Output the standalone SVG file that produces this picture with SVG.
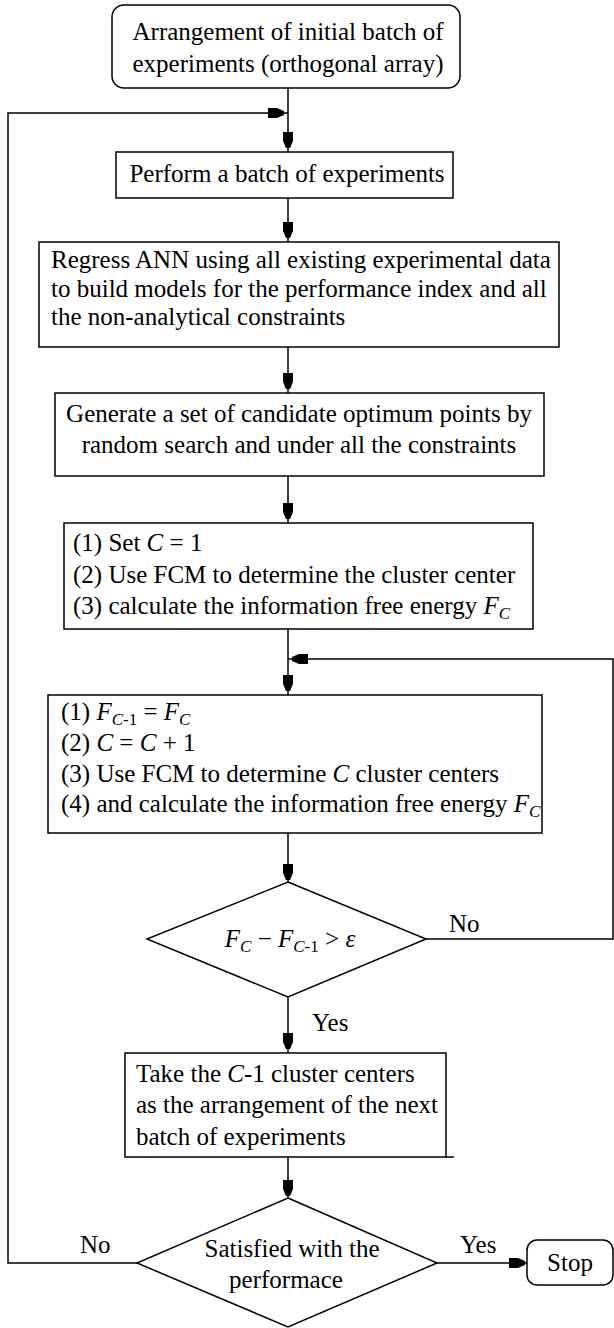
<svg xmlns="http://www.w3.org/2000/svg" width="614" height="1328" viewBox="0 0 614 1328" font-family="'Liberation Serif', 'DejaVu Serif', serif">
<style>
.box{fill:#fff;stroke:#000;stroke-width:1.5}
.t{font-family:'Liberation Serif','DejaVu Serif',serif;font-size:25px;fill:#000}
.c{text-anchor:middle}
.i{font-style:italic}
.s{font-size:17px}
.ln{fill:none;stroke:#000;stroke-width:1.5}
</style>
<defs>
<marker id="ah" markerUnits="userSpaceOnUse" markerWidth="22" markerHeight="12" refX="20" refY="6" orient="auto">
<path d="M0,1 L9,1 L16,4 L16,8 L9,11 L0,11 Z" fill="#000"/>
</marker>
</defs>
<rect width="614" height="1328" fill="#fff"/>
<g id="connectors">
<path class="ln" d="M288,88 V152" marker-end="url(#ah)"/>
<path class="ln" d="M137,1263 H8 V113 H288" marker-end="url(#ah)"/>
<path class="ln" d="M288,198 V242" marker-end="url(#ah)"/>
<path class="ln" d="M288,347 V393" marker-end="url(#ah)"/>
<path class="ln" d="M288,476 V523" marker-end="url(#ah)"/>
<path class="ln" d="M288,629 V695" marker-end="url(#ah)"/>
<path class="ln" d="M426,939 H613 V659 H288" marker-end="url(#ah)"/>
<path class="ln" d="M288,833 V884" marker-end="url(#ah)"/>
<path class="ln" d="M288,997 V1053" marker-end="url(#ah)"/>
<path class="ln" d="M288,1157 V1200" marker-end="url(#ah)"/>
<path class="ln" d="M437,1263 H529" marker-end="url(#ah)"/>
<text class="t" x="449" y="932">No</text>
<text class="t" x="312" y="1031">Yes</text>
<text class="t" x="80" y="1253">No</text>
<text class="t" x="460" y="1253">Yes</text>
</g>
<g id="start">
<rect class="box" x="112" y="5" width="348" height="83" rx="12"/>
<text class="t c" x="288" y="40">Arrangement of initial batch of</text>
<text class="t c" x="288" y="72">experiments (orthogonal array)</text>
</g>
<g id="perform">
<rect class="box" x="116" y="152" width="337" height="46"/>
<text class="t c" x="287" y="182">Perform a batch of experiments</text>
</g>
<g id="regress">
<rect class="box" x="39" y="242" width="520" height="105"/>
<text class="t" x="51" y="268">Regress ANN using all existing experimental data</text>
<text class="t" x="51" y="297">to build models for the performance index and all</text>
<text class="t" x="51" y="325">the non-analytical constraints</text>
</g>
<g id="generate">
<rect class="box" x="55" y="393" width="489" height="83"/>
<text class="t c" x="299" y="422">Generate a set of candidate optimum points by</text>
<text class="t c" x="299" y="453">random search and under all the constraints</text>
</g>
<g id="setc">
<rect class="box" x="64" y="523" width="469" height="106"/>
<text class="t" x="73" y="551">(1) Set <tspan class="i">C</tspan> = 1</text>
<text class="t" x="73" y="583">(2) Use FCM to determine the cluster center</text>
<text class="t" x="73" y="614">(3) calculate the information free energy <tspan class="i">F</tspan><tspan class="s i" dy="5">C</tspan></text>
</g>
<g id="fcm">
<rect class="box" x="48" y="695" width="494" height="138"/>
<text class="t" x="61" y="720">(1) <tspan class="i">F</tspan><tspan class="s" dy="5"><tspan class="i">C</tspan>-1</tspan><tspan dy="-5"> = </tspan><tspan class="i">F</tspan><tspan class="s i" dy="5">C</tspan></text>
<text class="t" x="61" y="751">(2) <tspan class="i">C</tspan> = <tspan class="i">C</tspan> + 1</text>
<text class="t" x="61" y="782">(3) Use FCM to determine <tspan class="i">C</tspan> cluster centers</text>
<text class="t" x="61" y="812">(4) and calculate the information free energy <tspan class="i">F</tspan><tspan class="s i" dy="5">C</tspan></text>
</g>
<g id="decision1">
<polygon class="box" points="288,882 426,939 288,997 147,939"/>
<text class="t c" x="290" y="947"><tspan class="i">F</tspan><tspan class="s i" dy="5">C</tspan><tspan dy="-5"> − </tspan><tspan class="i">F</tspan><tspan class="s" dy="5"><tspan class="i">C</tspan>-1</tspan><tspan dy="-5"> &gt; </tspan><tspan class="i">ε</tspan></text>
</g>
<g id="take">
<rect class="box" x="125" y="1053" width="321" height="104"/>
<path class="ln" d="M446,1157 H454"/>
<text class="t" x="136" y="1082">Take the <tspan class="i">C</tspan>-1 cluster centers</text>
<text class="t" x="136" y="1113">as the arrangement of the next</text>
<text class="t" x="136" y="1145">batch of experiments</text>
</g>
<g id="decision2">
<polygon class="box" points="288,1198 437,1263 288,1327 137,1263"/>
<text class="t c" x="292" y="1257">Satisfied with the</text>
<text class="t c" x="286" y="1288">performace</text>
</g>
<g id="stop">
<rect class="box" x="527" y="1240" width="86" height="45" rx="10"/>
<text class="t c" x="570" y="1271">Stop</text>
</g>
</svg>
